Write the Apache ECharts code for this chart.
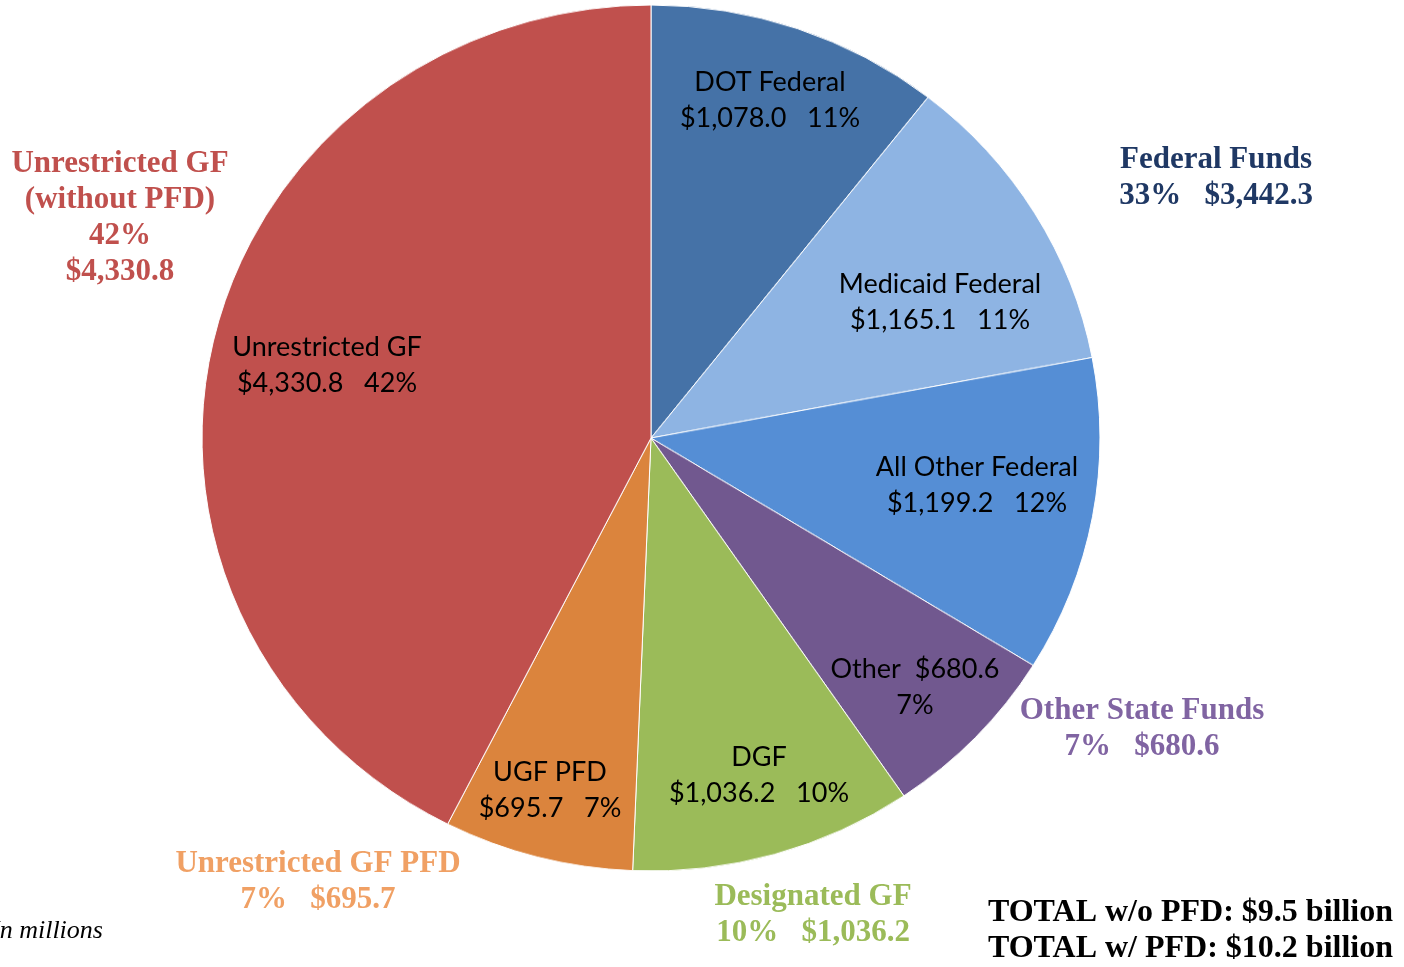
<!DOCTYPE html>
<html>
<head>
<meta charset="utf-8">
<script src="https://cdn.jsdelivr.net/npm/echarts@6/dist/echarts.min.js"></script>
<style>
  html, body { margin: 0; padding: 0; background: #fff; }
  #wrap { position: relative; width: 1404px; height: 967px; overflow: hidden; }
  /* the original pie is a touch flatter than round; canvas is taller so the top is not cut */
  #pie { position: absolute; left: 0; top: -20px; width: 1404px; height: 1007px; transform: scaleY(0.9644); transform-origin: 651px 458px; }
  #text { position: absolute; left: 0; top: 0; width: 1404px; height: 967px; pointer-events: none; }
</style>
</head>
<body>
<div id="wrap">
  <div id="pie"></div>
  <div id="text"></div>
</div>
<script>
// slices, clockwise from 12 o'clock ($ millions)
const names = ['DOT Federal', 'Medicaid Federal', 'All Other Federal', 'Other', 'DGF', 'UGF PFD', 'Unrestricted GF']
const values = [1078.0, 1165.1, 1199.2, 680.6, 1036.2, 695.7, 4330.8]
const pcts = ['11%', '11%', '12%', '7%', '10%', '7%', '42%']
const colors = ['#4572A7', '#8EB4E3', '#558ED5', '#71588F', '#9BBB59', '#DB843D', '#C0504D']

// outside group labels
const groupNames = ['Federal Funds', 'Other State Funds', 'Designated GF', 'Unrestricted GF PFD', 'Unrestricted GF\n(without PFD)']
const groupPcts = ['33%', '7%', '10%', '7%', '42%']
const groupTotals = ['$3,442.3', '$680.6', '$1,036.2', '$695.7', '$4,330.8']
const totals = ['TOTAL w/o PFD: $9.5 billion', 'TOTAL w/ PFD: $10.2 billion']

// where the text sits (label centres)
const labelPos = [[770, 100], [940, 302], [977, 485], [915, 687], [759, 775], [550, 790], [327, 365]]
const groupPos = [[1216, 178], [1142, 729], [813, 915], [318, 882], [120, 218]]
const groupColors = ['#1F3864', '#8064A2', '#9BBB59', '#F0A064', '#C0504D']

const money = v => '$' + v.toLocaleString('en-US', { minimumFractionDigits: 1, maximumFractionDigits: 1 })

const serif = '"Liberation Serif", "DejaVu Serif", serif'
const sans = 'Lato, "Open Sans", sans-serif'

// pie itself
const pieChart = echarts.init(document.getElementById('pie'))
pieChart.setOption({
  animation: false,
  series: [{
    type: 'pie',
    center: [651, 458],
    radius: 449,
    startAngle: 90,
    clockwise: true,
    data: values.map((v, i) => ({
      name: names[i],
      value: v,
      itemStyle: { color: colors[i] }
    })),
    itemStyle: { borderColor: '#fff', borderWidth: 1 },
    label: { show: false },
    labelLine: { show: false }
  }]
})

// labels on top
const sliceText = names.map((n, i) => ({
  type: 'text',
  x: labelPos[i][0],
  y: labelPos[i][1],
  style: {
    text: i === 3
      ? n + '  ' + money(values[i]) + '\n' + pcts[i]
      : n + '\n' + money(values[i]) + '   ' + pcts[i],
    fill: '#000',
    font: '27px ' + sans,
    lineHeight: 36,
    align: 'center',
    verticalAlign: 'middle'
  }
}))

const groupText = groupNames.map((g, i) => ({
  type: 'text',
  x: groupPos[i][0],
  y: groupPos[i][1],
  style: {
    text: i === 4
      ? g + '\n' + groupPcts[i] + '\n' + groupTotals[i]
      : g + '\n' + groupPcts[i] + '   ' + groupTotals[i],
    fill: groupColors[i],
    font: 'bold 31px ' + serif,
    lineHeight: 36,
    align: 'center',
    verticalAlign: 'middle'
  }
}))

const textChart = echarts.init(document.getElementById('text'))
textChart.setOption({
  animation: false,
  graphic: sliceText.concat(groupText, [
    {
      type: 'text',
      x: 1393,
      y: 931,
      style: {
        text: totals.join('\n'),
        fill: '#000',
        font: 'bold 32px ' + serif,
        lineHeight: 36,
        align: 'right',
        verticalAlign: 'middle'
      }
    },
    {
      type: 'text',
      x: -9,
      y: 931,
      style: {
        text: 'In millions',
        fill: '#000',
        font: 'italic 26px ' + serif,
        align: 'left',
        verticalAlign: 'middle'
      }
    }
  ])
})
</script>
</body>
</html>
